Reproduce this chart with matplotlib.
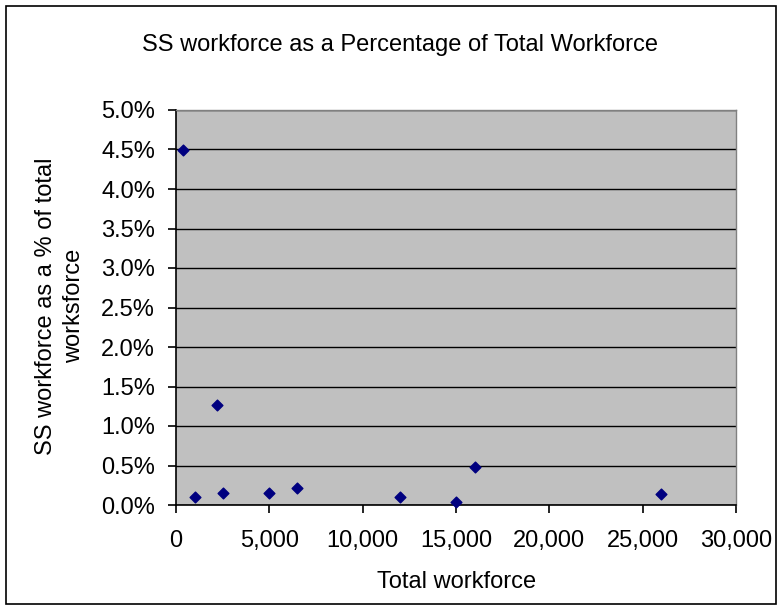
import matplotlib.pyplot as plt
from matplotlib.patches import Rectangle
from matplotlib.ticker import FuncFormatter, MultipleLocator

plt.rcParams['font.family'] = ['Liberation Sans', 'DejaVu Sans']

# Data
total_workforce = [350, 1000, 2200, 2500, 5000, 6500, 12000, 15000, 16000, 26000]
ss_share = [0.0450, 0.00097, 0.0127, 0.00156, 0.00156, 0.0021, 0.00097, 0.0004, 0.00485, 0.00135]

W, H = 782, 610
fig = plt.figure(figsize=(W / 100, H / 100), dpi=100)
fig.patches.append(Rectangle((6 / W, 6 / H), 770 / W, 598 / H,
                             transform=fig.transFigure, fill=False,
                             edgecolor='black', linewidth=1.2))

ax = fig.add_axes([176 / W, 1 - 505 / H, 560 / W, 395 / H])
ax.set_facecolor('#c0c0c0')

ax.scatter(total_workforce, ss_share, marker='D', s=30, color='#000080', zorder=3, clip_on=False)

ax.set_xlim(0, 30000)
ax.set_ylim(0, 0.05)
ax.xaxis.set_major_locator(MultipleLocator(5000))
ax.yaxis.set_major_locator(MultipleLocator(0.005))
ax.xaxis.set_major_formatter(FuncFormatter(lambda v, p: f'{v:,.0f}'))
ax.yaxis.set_major_formatter(FuncFormatter(lambda v, p: f'{v * 100:.1f}%'))

ax.grid(axis='y', color='black', linewidth=1)
ax.set_axisbelow(True)
for side in ['left', 'bottom']:
    ax.spines[side].set_color('black')
    ax.spines[side].set_linewidth(1.2)
for side in ['top', 'right']:
    ax.spines[side].set_color('#808080')
    ax.spines[side].set_linewidth(1)

ax.tick_params(direction='out', length=6, width=1.2, labelsize=17, colors='black')
ax.tick_params(axis='y', pad=9)
ax.tick_params(axis='x', pad=12)

# axis titles and chart title
fig.text(457 / W, 1 - 588 / H, 'Total workforce', ha='center', va='baseline', fontsize=17)
fig.text(60 / W, 1 - 306 / H, 'SS workforce as a % of total\nworksforce', rotation=90,
         ha='center', va='center', fontsize=17, linespacing=1.38, multialignment='center')
fig.text(400 / W, 1 - 51 / H, 'SS workforce as a Percentage of Total Workforce',
         ha='center', va='baseline', fontsize=17)

fig.savefig('out.png', dpi=100)
